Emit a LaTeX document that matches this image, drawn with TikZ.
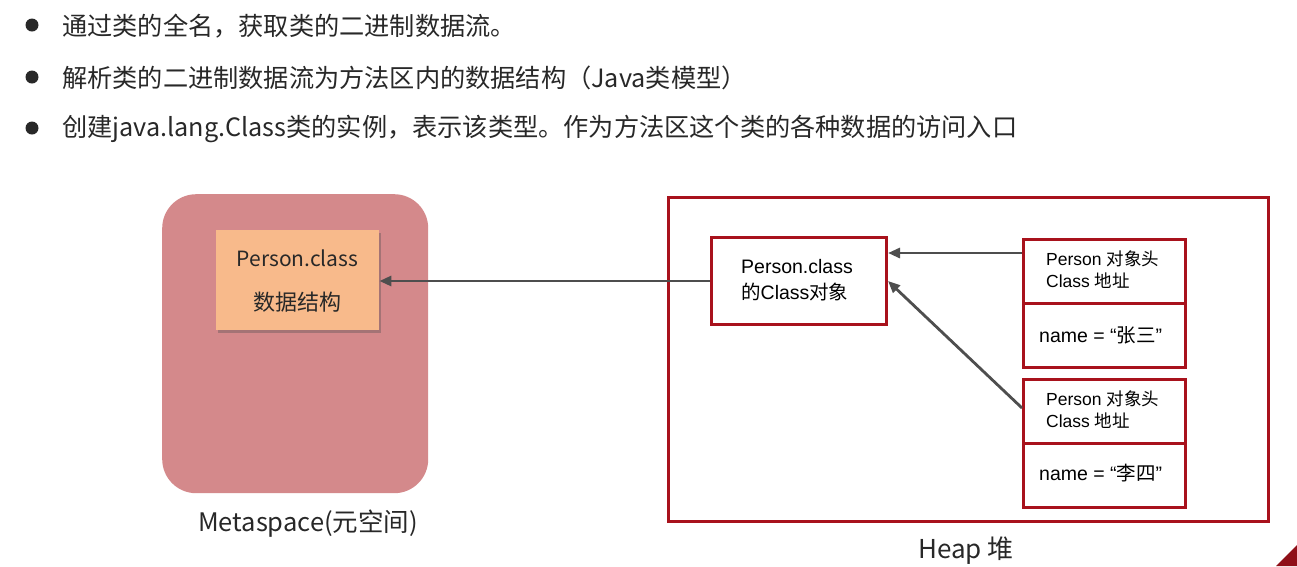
\documentclass[tikz,border=0pt]{standalone}
\usepackage{fontspec}
\setmainfont{Liberation Sans}
\newfontfamily\cjk{Noto Sans CJK SC}
\usetikzlibrary{arrows.meta,shadows,calc}
\definecolor{metafill}{RGB}{212,137,139}
\definecolor{orangefill}{RGB}{248,186,139}
\definecolor{heapred}{RGB}{168,18,28}
\definecolor{arrowgray}{RGB}{78,78,78}
\definecolor{txtgray}{RGB}{40,40,40}
\tikzset{
  bullettext/.style={anchor=west, inner sep=0pt, text=txtgray, font=\cjk\fontsize{25.2}{29}\selectfont},
  bulletdot/.style={circle, fill=txtgray, inner sep=0pt, minimum size=13pt},
  redbox/.style={draw=heapred, line width=3pt, fill=white, inner sep=0pt, anchor=north west},
  boxtext/.style={anchor=base west, inner sep=0pt, font=\fontsize{17.5}{21}\selectfont},
  arr/.style={draw=arrowgray, line width=2.8pt, -{Triangle[length=12pt,width=10pt]}},
}
\begin{document}
\begin{tikzpicture}[x=1pt,y=-1pt]
\useasboundingbox (0,0) rectangle (1297,566);
\fill[white] (0,0) rectangle (1297,566);
% bullets
\node[bulletdot] (b1) at (32,25) {};
\node[bulletdot] (b2) at (32,77) {};
\node[bulletdot] (b3) at (32,128) {};
\node[bullettext] (t1) at (62,26) {通过类的全名，获取类的二进制数据流。};
\node[bullettext] (t2) at (62,78) {解析类的二进制数据流为方法区内的数据结构（Java类模型）};
\node[bullettext] (t3) at (62,129) {创建java.lang.Class类的实例，表示该类型。作为方法区这个类的各种数据的访问入口};
% metaspace
\node[fill=metafill, rounded corners=34pt, minimum width=266pt, minimum height=299pt, anchor=north west, inner sep=0pt] (meta) at (162,194) {};
\node[fill=orangefill, minimum width=163pt, minimum height=100pt, anchor=north west, inner sep=0pt,
  drop shadow={shadow xshift=2pt, shadow yshift=-3pt, opacity=0.35, fill=black!70}] (ob) at (216,230) {};
\node[inner sep=0pt, text=txtgray, font=\cjk\fontsize{21}{25}\selectfont] (obt1) at (297.5,258) {Person.class};
\node[inner sep=0pt, text=txtgray, font=\cjk\fontsize{22}{27}\selectfont] (obt2) at (297.5,302) {数据结构};
\node[inner sep=0pt, text=txtgray, font=\cjk\fontsize{25.5}{29}\selectfont] (metal) at (308,524) {Metaspace(元空间)};
% heap
\node[draw=heapred, line width=3pt, minimum width=600pt, minimum height=324pt, anchor=north west, inner sep=0pt] (heap) at (667,196) {};
\node[inner sep=0pt, text=txtgray, font=\cjk\fontsize{26}{30}\selectfont, anchor=base] (heapl) at (966,558) {Heap 堆};
% class object
\node[redbox, minimum width=175pt, minimum height=87pt] (cls) at (710,236) {};
\node[boxtext, font=\fontsize{19.5}{23}\selectfont] (clst1) at (741,273) {Person.class};
\node[boxtext, font=\fontsize{19.5}{23}\selectfont] (clst2) at (741,299) {{\cjk 的}Class{\cjk 对象}};
% person objects
\node[redbox, minimum width=162pt, minimum height=64pt] (p1h) at (1022,238) {};
\node[redbox, minimum width=162pt, minimum height=64pt] (p1n) at (1022,302) {};
\node[redbox, minimum width=162pt, minimum height=64pt] (p2h) at (1022,378) {};
\node[redbox, minimum width=162pt, minimum height=64pt] (p2n) at (1022,442) {};
\node[boxtext] (p1a) at (1046,265) {Person {\cjk 对象头}};
\node[boxtext] (p1b) at (1046,287) {Class {\cjk 地址}};
\node[boxtext, font=\fontsize{19.5}{23}\selectfont] (p1c) at (1039,342) {name = “{\cjk 张三}”};
\node[boxtext] (p2a) at (1046,405) {Person {\cjk 对象头}};
\node[boxtext] (p2b) at (1046,427) {Class {\cjk 地址}};
\node[boxtext, font=\fontsize{19.5}{23}\selectfont] (p2c) at (1039,480) {name = “{\cjk 李四}”};
% arrows
\draw[arr] ([yshift=-15pt]p1h.north west) -- ([yshift=-15pt]p1h.north west -| cls.east);
\draw[arr] ([yshift=-30pt]p2h.north west) -- (cls.east);
\draw[arr] (cls.west) -- (cls.west -| ob.east);
% corner mark
\fill[heapred!85!black] (1297,545) -- (1297,566) -- (1276,566) -- cycle;
\end{tikzpicture}
\end{document}
